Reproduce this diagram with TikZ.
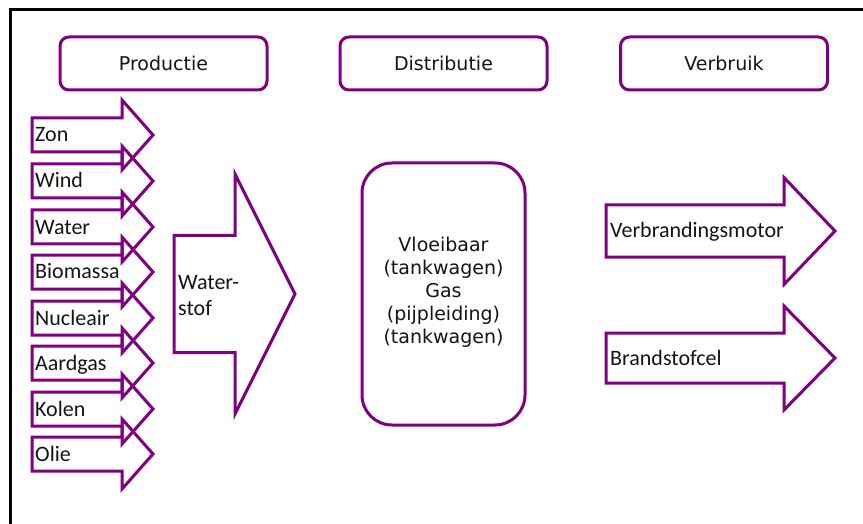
\documentclass[tikz,border=0pt]{standalone}
\usepackage{fontspec}
\setmainfont{Carlito}
\newfontfamily\hdrfont{DejaVu Sans}
\definecolor{pur}{RGB}{128,0,128}
\definecolor{txt}{RGB}{20,20,20}
% #1 x1, #2 x2 (head base), #3 tip x, #4 y centre, #5 half shaft, #6 half head
\newcommand\purarrow[6]{%
  \draw[arrowline] (#1,#4-#5) -- (#2,#4-#5) -- (#2,#4-#6) -- (#3,#4)
    -- (#2,#4+#6) -- (#2,#4+#5) -- (#1,#4+#5) -- cycle;}
\begin{document}
\begin{tikzpicture}[x=1pt,y=-1pt,
  arrowline/.style={draw=pur,line width=3pt,line join=miter},
  header/.style={draw=pur,line width=3pt,rounded corners=9pt,minimum width=207pt,
    minimum height=53pt,inner sep=0pt,text=txt,font=\hdrfont\fontsize{19}{23}\selectfont},
  lbl/.style={anchor=base west,inner sep=0pt,text=txt,font=\fontsize{22}{26}\selectfont},
  frame/.style={draw=black,line width=3pt}]
\useasboundingbox (0,0) rectangle (863,524);
\draw[frame] (10,530) -- (10,10) -- (870,10);

% headers
\node[header] (prod) at (163.5,63.5) {Productie};
\node[header] (dist) at (443.5,63.5) {Distributie};
\node[header] (verb) at (724,63.5) {Verbruik};

% small production arrows
\foreach \yc/\name/\t in {135/zon/Zon,181/wind/Wind,227/water/Water,272/bio/Biomassa,
    318/nuc/Nucleair,363/aard/Aardgas,409/kolen/Kolen,454/olie/Olie}{
  \purarrow{32}{122}{153}{\yc}{17}{35}
  \node[lbl] (\name) at (35,\yc+7) {\t};
}

% waterstof arrow
\purarrow{174}{235}{295}{294}{58.5}{120}
\node[lbl] (ws1) at (178,289) {Water-};
\node[lbl] (ws2) at (178,315) {stof};

% distribution box
\node[draw=pur,line width=3pt,rounded corners=30pt,minimum width=163pt,minimum height=262pt,
  inner sep=0pt] (distbox) at (443.5,294) {};
\node[align=center,text=txt,inner sep=0pt,font=\hdrfont\fontsize{19}{23}\selectfont]
  (disttxt) at (443.5,292) {Vloeibaar\\(tankwagen)\\Gas\\(pijpleiding)\\(tankwagen)};

% consumption arrows
\purarrow{606}{784}{835}{231}{26}{53.5}
\node[lbl] (motor) at (610,237) {Verbrandingsmotor};
\purarrow{606}{784}{835}{358}{25}{52}
\node[lbl] (cel) at (610,365) {Brandstofcel};
\end{tikzpicture}
\end{document}
